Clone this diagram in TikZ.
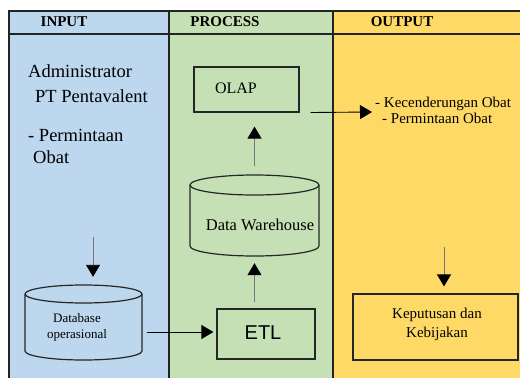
\documentclass[tikz,border=0pt]{standalone}
\usepackage{fontspec}
\setmainfont{Liberation Serif}
\newfontfamily\arialfont{Liberation Sans}
\usetikzlibrary{arrows.meta}
\definecolor{inblue}{RGB}{189,215,238}
\definecolor{procgreen}{RGB}{197,224,180}
\definecolor{outyellow}{RGB}{255,217,102}
\definecolor{gridline}{RGB}{35,35,35}
\definecolor{arrowgray}{RGB}{120,120,120}
\tikzset{
  gridrule/.style={draw=gridline, line width=1.6pt},
  boxshape/.style={draw=black!85, line width=1.2pt, inner sep=0pt},
  cyl/.style={draw=black!85, line width=1.2pt},
  headtext/.style={font=\fontsize{15}{18}\selectfont\bfseries, anchor=base, inner sep=0pt},
  flowarrow/.style={line width=0.9pt, -{Triangle[length=12pt,width=14pt,black]}},
  grayarrow/.style={flowarrow, draw=arrowgray},
  blackarrow/.style={flowarrow, draw=black},
  linetext/.style={anchor=base west, inner sep=0pt}
}
\begin{document}
\begin{tikzpicture}[x=1pt,y=-1pt]
\useasboundingbox (0,0) rectangle (520,378);
\fill[white] (0,0) rectangle (520,378);
% columns
\fill[inblue] (9,11) rectangle (169,378);
\fill[procgreen] (169,11) rectangle (333,378);
\fill[outyellow] (333,11) rectangle (520,378);
\draw[gridrule] (520,11) -- (9,11) -- (9,378);
\draw[gridrule] (9,34) -- (520,34);
\draw[gridrule] (169,11) -- (169,378);
\draw[gridrule] (333,11) -- (333,378);
% headers
\node[headtext] (hin) at (64,26.5) {INPUT};
\node[headtext] (hproc) at (225,26.5) {PROCESS};
\node[headtext] (hout) at (402,26.5) {OUTPUT};

% INPUT texts
\node[linetext, font=\fontsize{18.5}{22}\selectfont] (admin1) at (28,77) {Administrator};
\node[linetext, font=\fontsize{18.5}{22}\selectfont] (admin2) at (35,102.5) {PT Pentavalent};
\node[linetext, font=\fontsize{18.5}{22}\selectfont] (perm1) at (28,141) {- Permintaan};
\node[linetext, font=\fontsize{18.5}{22}\selectfont] (perm2) at (33,163) {Obat};

% Database operasional cylinder
\draw[cyl] (83.5,294) ellipse [x radius=58.5, y radius=9];
\draw[cyl] (25,294) -- (25,351) arc[start angle=180, end angle=0, x radius=58.5, y radius=9] -- (142,294);
\node[inner sep=0pt, minimum width=117pt, minimum height=75pt] (dbc) at (83.5,322.5) {};
\node[font=\fontsize{13}{16}\selectfont, align=center, inner sep=0pt] (dbt) at (77,327) {Database\\operasional};

% Data Warehouse cylinder
\draw[cyl] (254.5,185) ellipse [x radius=64.5, y radius=10];
\draw[cyl] (190,185) -- (190,246) arc[start angle=180, end angle=0, x radius=64.5, y radius=10] -- (319,185);
\node[inner sep=0pt, minimum width=129pt, minimum height=82pt] (dw) at (254.5,216) {};
\node[font=\fontsize{16.5}{20}\selectfont, anchor=base, inner sep=0pt] (dwt) at (260,230) {Data Warehouse};

% OLAP box
\node[boxshape, minimum width=105pt, minimum height=45pt] (olap) at (246.5,89.5) {};
\node[font=\fontsize{16}{19}\selectfont, anchor=base, inner sep=0pt] (olapt) at (236,93) {OLAP};

% ETL box
\node[boxshape, minimum width=98pt, minimum height=50pt] (etl) at (266,334) {};
\node[font=\arialfont\fontsize{20}{24}\selectfont, anchor=base, inner sep=0pt] (etlt) at (263,339) {ETL};

% Keputusan box
\node[boxshape, minimum width=165pt, minimum height=66pt] (kep) at (435.5,327) {};
\node[font=\fontsize{15}{19}\selectfont, align=center, inner sep=0pt] (kept) at (437,324) {Keputusan dan\\Kebijakan};

% OUTPUT texts
\node[linetext, font=\fontsize{15}{17}\selectfont] (out1) at (375,107) {- Kecenderungan Obat};
\node[linetext, font=\fontsize{15}{17}\selectfont] (out2) at (382,123) {- Permintaan Obat};

% connectors
\coordinate (inA) at (93,237);
\draw[grayarrow, shorten >=8pt] (inA) -- (inA |- dbc.north);
\coordinate (dbout) at (147,332);
\draw[blackarrow, shorten >=3pt] (dbout) -- (dbout -| etl.west);
\draw[grayarrow, shorten <=6pt, shorten >=6pt] (dw.south |- etl.north) -- (dw.south);
\draw[grayarrow, shorten <=9pt, shorten >=14pt] (dw.north) -- (dw.north |- olap.south);
\coordinate (outA) at (372,112);
\draw[blackarrow, shorten <=11pt] (olap.south east) -- (outA);
\coordinate (outB) at (444,247);
\draw[grayarrow, shorten >=7pt] (outB) -- (outB |- kep.north);
\end{tikzpicture}
\end{document}
